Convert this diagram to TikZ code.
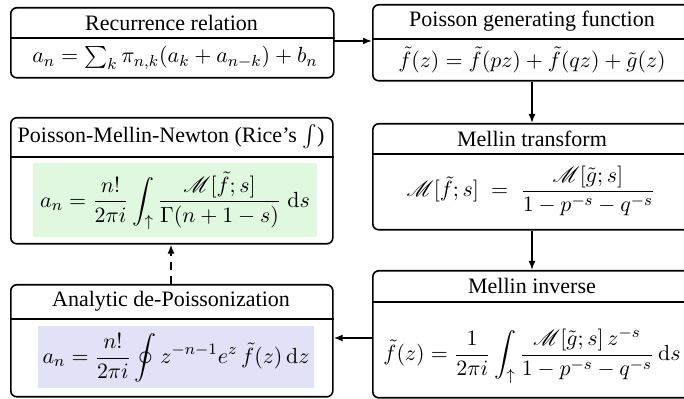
\documentclass[tikz,border=0pt]{standalone}
\usepackage{amsmath}
\usepackage{mathrsfs}
\usepackage[no-math]{fontspec}
\setmainfont{Liberation Serif}
\usetikzlibrary{arrows.meta}
\definecolor{shgreen}{HTML}{DFF8DF}
\definecolor{shblue}{HTML}{E1E1F8}
\tikzset{
  frame/.style={draw, line width=0.8pt, rounded corners=3pt, anchor=north west, inner sep=0pt},
  divline/.style={line width=0.8pt},
  ttl/.style={inner sep=0pt, font=\fontsize{11}{13}\selectfont},
  eqn/.style={inner sep=0pt, font=\fontsize{11}{13}\selectfont},
  shade/.style={anchor=north west, inner sep=0pt},
  conn/.style={line width=0.8pt, -{Latex[length=4.5pt,width=3.5pt]}},
}
\begin{document}
\begin{tikzpicture}[x=0.5pt,y=-0.5pt]
\useasboundingbox (0,0) rectangle (684,399);
% shaded backgrounds
\node[shade, fill=shgreen, minimum width=142pt, minimum height=37pt] (gsh) at (33,163) {};
\node[shade, fill=shblue, minimum width=138pt, minimum height=31pt] (bsh) at (38,326) {};
% boxes
\node[frame, minimum width=161.5pt, minimum height=35pt] (b1) at (10,7) {};
\node[frame, minimum width=160pt, minimum height=38pt] (b2) at (372,4) {};
\node[frame, minimum width=160pt, minimum height=53pt] (b3) at (372,123) {};
\node[frame, minimum width=160pt, minimum height=63.5pt] (b5) at (372,270) {};
\node[frame, minimum width=161pt, minimum height=56pt] (b4) at (10,284) {};
\node[frame, minimum width=161pt, minimum height=63pt] (b6) at (10,117) {};
% dividers
\coordinate (d1) at (10,38);
\coordinate (d2) at (372,39);
\coordinate (d3) at (372,154);
\coordinate (d5) at (372,302);
\coordinate (d4) at (10,319);
\coordinate (d6) at (10,157);
\draw[divline] (d1) -- (d1 -| b1.east);
\draw[divline] (d2) -- (d2 -| b2.east);
\draw[divline] (d3) -- (d3 -| b3.east);
\draw[divline] (d5) -- (d5 -| b5.east);
\draw[divline] (d4) -- (d4 -| b4.east);
\draw[divline] (d6) -- (d6 -| b6.east);
% titles
\node[ttl] (t1) at (171.5,22.5) {Recurrence relation};
\node[ttl] (t2) at (532,21.5) {Poisson generating function};
\node[ttl] (t3) at (532,138.5) {Mellin transform};
\node[ttl] (t5) at (532,286) {Mellin inverse};
\node[ttl] (t4) at (171,301.5) {Analytic de-Poissonization};
\node[ttl] (t6) at (171,137) {Poisson-Mellin-Newton (Rice's $\int$)};
% equations
\node[eqn] (e1) at (175,58) {$a_n = \sum_k \pi_{n,k}(a_k + a_{n-k}) + b_n$};
\node[eqn] (e2) at (532,60) {$\tilde f(z) = \tilde f(pz) + \tilde f(qz) + \tilde g(z)$};
\node[eqn] (e3) at (531,191) {$\displaystyle \mathscr{M}[\tilde f; s] \;=\; \frac{\mathscr{M}[\tilde g; s]}{1-p^{-s}-q^{-s}}$};
\node[eqn] (e5) at (532,356) {$\displaystyle \tilde f(z) = \frac{1}{2\pi i}\int_{\uparrow} \frac{\mathscr{M}[\tilde g;s]\,z^{-s}}{1-p^{-s}-q^{-s}}\,\mathrm{d}s$};
\node[eqn] (e6) at (175,201) {$\displaystyle a_n = \frac{n!}{2\pi i}\int_{\uparrow} \frac{\mathscr{M}[\tilde f; s]}{\Gamma(n+1-s)}\;\mathrm{d}s$};
\node[eqn] (e4) at (176,358) {$\displaystyle a_n = \frac{n!}{2\pi i}\oint z^{-n-1} e^z\,\tilde f(z)\,\mathrm{d}z$};
% connectors
\coordinate (c12) at (333,41);
\draw[conn] (c12) -- (c12 -| b2.west);
\draw[conn] (b2.south -| 532,0) -- (b3.north -| 532,0);
\draw[conn] (b3.south -| 532,0) -- (b5.north -| 532,0);
\coordinate (c54) at (372,338);
\draw[conn] (c54) -- (c54 -| b4.east);
\draw[conn, dashed, dash pattern=on 4pt off 3pt] (b4.north -| 171,0) -- (b6.south -| 171,0);
\end{tikzpicture}
\end{document}
